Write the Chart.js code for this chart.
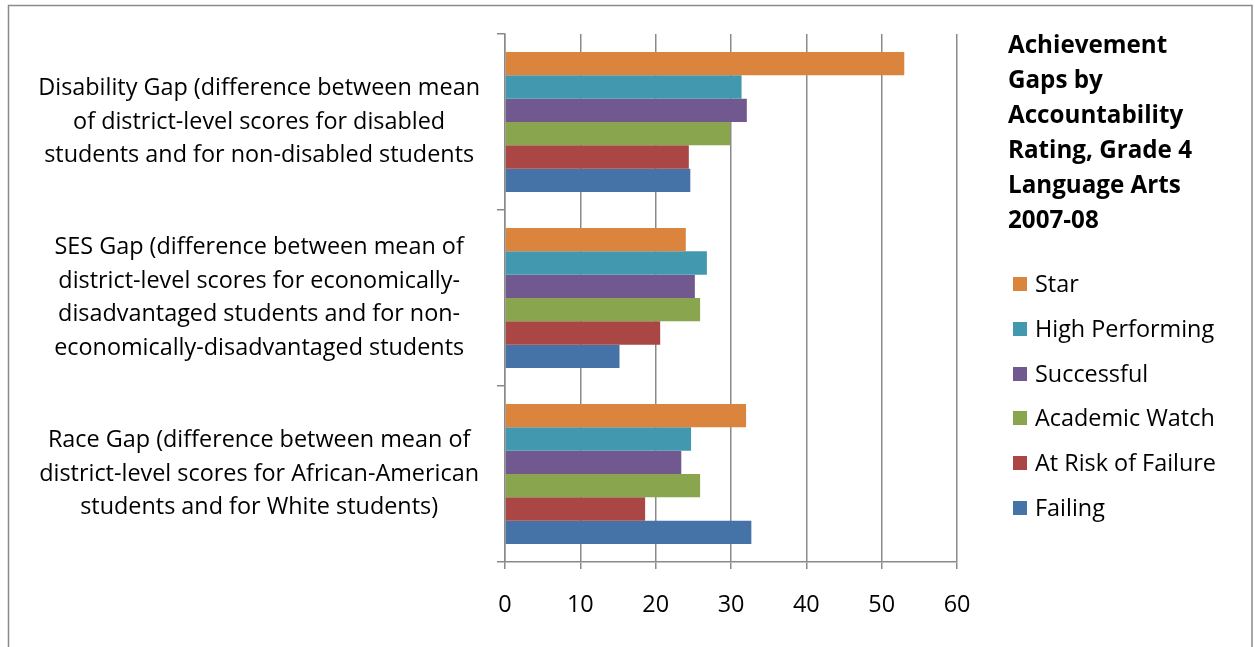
<!DOCTYPE html>
<html>
<head>
<meta charset="utf-8">
<script src="https://cdn.jsdelivr.net/npm/chart.js@4.4.1/dist/chart.umd.min.js"></script>
<style>
  html, body { margin: 0; padding: 0; background: #fff; overflow: hidden; }
  #wrap { position: relative; width: 1255px; height: 647px; }
</style>
</head>
<body>
<div id="wrap"><canvas id="c" width="1255" height="647"></canvas></div>
<script>
// Gap categories (wrapped label lines), top to bottom
const categories = [
  ['Disability Gap (difference between mean', 'of district-level scores for disabled', 'students and for non-disabled students'],
  ['SES Gap (difference between mean of', 'district-level scores for economically-', 'disadvantaged students and for non-', 'economically-disadvantaged students'],
  ['Race Gap (difference between mean of', 'district-level scores for African-American', 'students and for White students)']
];

// Accountability ratings
const seriesNames = ['Star', 'High Performing', 'Successful', 'Academic Watch', 'At Risk of Failure', 'Failing'];

// Gap values per rating, in category order
const star            = [53.0, 24.0, 32.0];
const highPerforming  = [31.4, 26.8, 24.7];
const successful      = [32.1, 25.2, 23.4];
const academicWatch   = [29.9, 25.9, 25.9];
const atRiskOfFailure = [24.4, 20.6, 18.6];
const failing         = [24.6, 15.2, 32.7];

const xTicks = [0, 10, 20, 30, 40, 50, 60];

const titleLines = ['Achievement', 'Gaps by', 'Accountability', 'Rating, Grade 4', 'Language Arts', '2007-08'];

const seriesValues = [star, highPerforming, successful, academicWatch, atRiskOfFailure, failing];
const seriesColors = ['#DB843D', '#4198AF', '#71588F', '#89A54E', '#AA4643', '#4572A7'];

const FONT = '"Open Sans", Lato, sans-serif';
const AXIS_GRAY = '#8a8a8a';

// Pick a font size so that a sample string spans the wanted width
function fitSize(sample, weight, width) {
  const ctx = document.createElement('canvas').getContext('2d');
  ctx.font = weight + ' 100px ' + FONT;
  return Math.round(1000 * width / ctx.measureText(sample).width) / 10;
}
const labelSize  = fitSize('Disability Gap (difference between mean', 'normal', 441);
const legendSize = fitSize('Academic Watch', 'normal', 180);
const titleSize  = fitSize('Accountability', 'bold', 175);

// Outer frame, side title and legend
const decorations = {
  id: 'decorations',
  beforeDraw(chart) {
    const ctx = chart.ctx;
    ctx.save();
    ctx.fillStyle = '#ffffff';
    ctx.fillRect(0, 0, chart.width, chart.height);
    ctx.strokeStyle = AXIS_GRAY;
    ctx.lineWidth = 1.5;
    ctx.strokeRect(8.5, 5.5, 1243.5, 700);
    ctx.restore();
  },
  afterDraw(chart) {
    const ctx = chart.ctx;
    ctx.save();
    ctx.fillStyle = '#000';
    ctx.textAlign = 'left';
    ctx.textBaseline = 'alphabetic';
    ctx.font = 'bold ' + titleSize + 'px ' + FONT;
    titleLines.forEach((t, i) => ctx.fillText(t, 1008, 53 + i * 35));

    ctx.font = legendSize + 'px ' + FONT;
    chart.data.datasets.forEach((ds, i) => {
      const y = Math.round(277 + i * 44.8);
      ctx.fillStyle = ds.backgroundColor;
      ctx.fillRect(1013, y, 14, 14);
      ctx.fillStyle = '#000';
      ctx.fillText(ds.label, 1035, y + 15);
    });
    ctx.restore();
  }
};

new Chart(document.getElementById('c'), {
  type: 'bar',
  data: {
    labels: categories,
    datasets: seriesNames.map((name, i) => ({
      label: name,
      data: seriesValues[i],
      backgroundColor: seriesColors[i],
      borderWidth: 0,
      barPercentage: 1.0,
      categoryPercentage: 0.795
    }))
  },
  options: {
    indexAxis: 'y',
    responsive: false,
    animation: false,
    devicePixelRatio: 1,
    layout: { padding: { left: 0, right: 298, top: 34, bottom: 0 } },
    plugins: {
      legend: { display: false },
      title: { display: false },
      tooltip: { enabled: false }
    },
    scales: {
      y: {
        type: 'category',
        offset: true,
        grid: {
          offset: true,
          drawOnChartArea: false,
          drawTicks: true,
          tickLength: 8,
          color: AXIS_GRAY,
          lineWidth: 1.5
        },
        border: { display: true, color: AXIS_GRAY, width: 1.5 },
        ticks: {
          crossAlign: 'center',
          padding: 17,
          color: '#000',
          font: { family: FONT, size: labelSize, lineHeight: '33.5px' }
        },
        afterFit(scale) {
          scale.width = 505;
          scale.paddingTop = 0;
          scale.paddingBottom = 0;
        }
      },
      x: {
        type: 'linear',
        min: 0,
        max: 60,
        afterBuildTicks(scale) { scale.ticks = xTicks.map(v => ({ value: v })); },
        grid: {
          drawOnChartArea: true,
          drawTicks: true,
          tickLength: 7,
          color: AXIS_GRAY,
          lineWidth: 1.5
        },
        border: { display: true, color: AXIS_GRAY, width: 1.5 },
        ticks: {
          padding: 22,
          color: '#000',
          font: { family: FONT, size: legendSize }
        },
        afterFit(scale) { scale.height = 85; }
      }
    }
  },
  plugins: [decorations]
});
</script>
</body>
</html>
